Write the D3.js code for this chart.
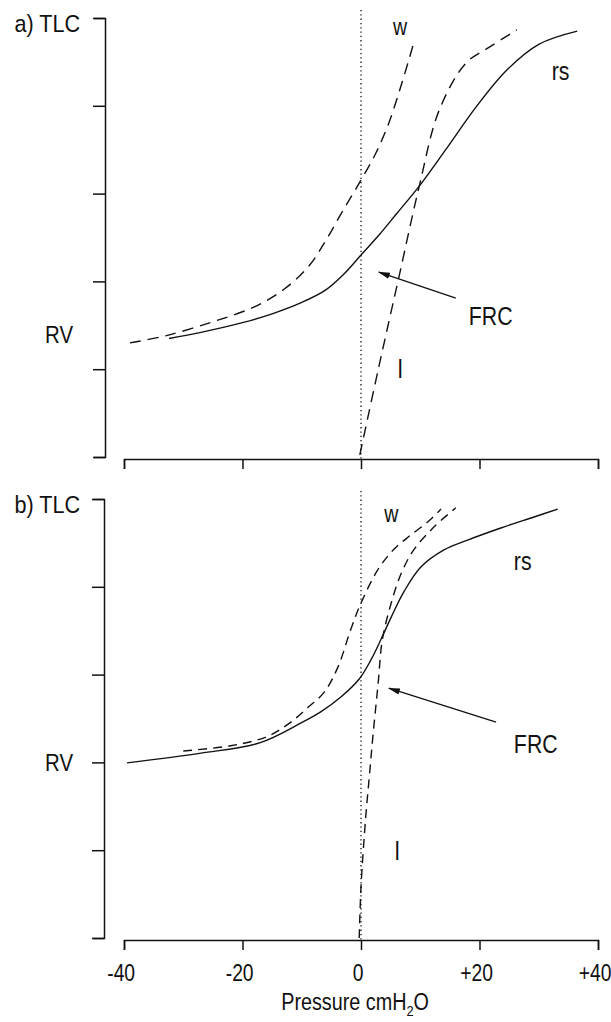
<!DOCTYPE html>
<html>
<head>
<meta charset="utf-8">
<script src="https://cdn.jsdelivr.net/npm/d3@7"></script>
<style>
  html, body { margin: 0; padding: 0; background: #fff; }
  svg { display: block; }
  text { font-family: "Liberation Sans", Arial, Helvetica, sans-serif; fill: #111; }
</style>
</head>
<body>
<svg id="chart" width="611" height="1022"></svg>
<script>
// Static pressure–volume curves: lung (l), chest wall (w) and
// total respiratory system (rs). Pressure in cmH2O, volume in % of TLC.

const pressureTicks = [-40, -20, 0, 20, 40];
const pressureLabels = ["-40", "-20", "0", "+20", "+40"];
const volumeTicks = [0, 20, 40, 60, 80, 100];

// Panel a) — [pressure, volume %]
const aRespSystem = [[-32.4, 27.0], [-27, 28.4], [-20, 30.6], [-15, 32.6], [-10, 35.2],
  [-6, 38.0], [-3, 41.5], [0, 46.0], [3, 50.5], [6, 55.4], [10, 62.0], [14.3, 70.0],
  [19.4, 79.7], [24.5, 88.0], [30.0, 94.0], [36.5, 97.0]];
const aChestWall = [[-39, 26.0], [-33, 27.6], [-25, 30.8], [-18, 34.2], [-13, 38.2],
  [-8.8, 43.5], [-5.9, 49.4], [-3.2, 55.8], [-0.2, 62.6], [2.5, 69.2], [4.7, 76.1],
  [6.9, 85.2], [8.9, 94.3]];
const aLung = [[-0.2, 0.5], [3.0, 20.5], [6.4, 41.0], [9.8, 61.5], [13.2, 79.0],
  [17.7, 89.7], [21.6, 93.3], [26.3, 97.3]];
const aRV = 28;

// Panel b) — [pressure, volume %]
const bRespSystem = [[-39.5, 39.9], [-27.0, 42.1], [-17, 44.5], [-10.1, 49.0], [-6.8, 51.5],
  [-3.4, 54.9], [-0.3, 59.0], [1.7, 63.4], [3.4, 68.1], [5.1, 73.1], [7.3, 79.0],
  [10.1, 84.5], [14.0, 88.4], [18.1, 90.7], [23.6, 93.4], [29.2, 95.9], [33.2, 97.7]];
const bChestWall = [[-30, 42.6], [-22, 43.8], [-16, 45.8], [-12, 49.0], [-8.9, 52.6],
  [-6.2, 56.0], [-3.9, 61.7], [-1.7, 70.4], [0, 76.3], [2.9, 84.0], [5.6, 88.6],
  [8.4, 91.8], [11.3, 94.8], [13.5, 97.7]];
const bLung = [[-0.3, 0], [0, 11.6], [0.8, 27.6], [1.4, 36.7], [2.0, 45.8], [2.9, 58.1],
  [3.6, 67.9], [5.1, 76.3], [6.8, 83.1], [8.9, 88.4], [12.3, 93.6], [16.0, 98.0]];
const bRV = 40;

const svg = d3.select("#chart");

// Arrowhead used by the FRC pointers
svg.append("defs").append("marker")
  .attr("id", "arrowhead")
  .attr("viewBox", "0 0 12 8")
  .attr("refX", 11).attr("refY", 4)
  .attr("markerWidth", 12).attr("markerHeight", 8)
  .attr("markerUnits", "userSpaceOnUse")
  .attr("orient", "auto")
  .append("path").attr("d", "M0,0.8L12,4L0,7.2Z").attr("fill", "#111");

const x = d3.scaleLinear().domain([-40, 40]).range([124, 598]);

const panels = [
  { tag: "a)", rs: aRespSystem, w: aChestWall, l: aLung, rv: aRV, dash: "11,7",
    y: d3.scaleLinear().domain([0, 100]).range([457, 18]), yAxisX: 105, xAxisY: 459,
    showTickLabels: false,
    notes: { w: [6.6, 96.1], rs: [32.2, 85.9], frc: [18.2, 30.1], l: [6.6, 18.0],
             arrowFrom: [16.0, 36.2], arrowTo: [3.0, 42.1] } },
  { tag: "b)", rs: bRespSystem, w: bChestWall, l: bLung, rv: bRV, dash: "9,6",
    y: d3.scaleLinear().domain([0, 100]).range([938, 499]), yAxisX: 104, xAxisY: 940,
    showTickLabels: true,
    notes: { w: [5.1, 94.8], rs: [25.8, 83.8], frc: [25.8, 42.1], l: [6.1, 17.8],
             arrowFrom: [22.8, 49.2], arrowTo: [4.7, 56.9] } }
];

function condensedText(g, str, px, py, size, anchor, sx) {
  return g.append("text")
    .attr("transform", `translate(${px},${py}) scale(${sx || 0.85},1)`)
    .attr("text-anchor", anchor || "start")
    .style("font-size", size + "px")
    .text(str);
}

panels.forEach(p => {
  const g = svg.append("g");
  const y = p.y;

  // Volume axis (ticks point outward, no numeric labels)
  const yAxis = g.append("g")
    .attr("transform", `translate(${p.yAxisX},0)`)
    .call(d3.axisLeft(y).tickValues(volumeTicks).tickSize(12).tickSizeOuter(11).tickFormat(""));
  yAxis.selectAll("path, line").attr("stroke", "#111").attr("stroke-width", 1.5);

  // Pressure axis, offset from the volume axis
  const xAxis = g.append("g")
    .attr("transform", `translate(0,${p.xAxisY})`)
    .call(d3.axisBottom(x).tickValues(pressureTicks).tickSize(10).tickSizeOuter(10)
      .tickPadding(15)
      .tickFormat((d, i) => p.showTickLabels ? pressureLabels[i] : ""));
  xAxis.selectAll("path, line").attr("stroke", "#111").attr("stroke-width", 1.5);
  xAxis.selectAll("text")
    .attr("fill", "#111")
    .attr("dx", -4)
    .style("font-size", "23px")
    .style("font-family", '"Liberation Sans", Arial, sans-serif')
    .attr("transform", "scale(0.84,1)");

  // Zero-pressure reference
  g.append("line")
    .attr("x1", x(0)).attr("x2", x(0))
    .attr("y1", y(100) - 8).attr("y2", p.xAxisY)
    .attr("stroke", "#111").attr("stroke-width", 1.3)
    .attr("stroke-dasharray", "1.3,3");

  const line = d3.line()
    .x(d => x(d[0])).y(d => y(d[1]))
    .curve(d3.curveCatmullRom.alpha(0.5));

  g.append("path").datum(p.rs).attr("d", line)
    .attr("fill", "none").attr("stroke", "#111").attr("stroke-width", 1.4);
  g.append("path").datum(p.w).attr("d", line)
    .attr("fill", "none").attr("stroke", "#111").attr("stroke-width", 1.4)
    .attr("stroke-dasharray", p.dash);
  g.append("path").datum(p.l).attr("d", line)
    .attr("fill", "none").attr("stroke", "#111").attr("stroke-width", 1.4)
    .attr("stroke-dasharray", p.dash);

  // Axis captions
  condensedText(g, p.tag + " TLC", 80, y(100) + 14, 24, "end", 0.9);
  condensedText(g, "RV", 73, y(p.rv) + 9, 24, "end", 0.85);

  // Curve labels
  const n = p.notes;
  condensedText(g, "w", x(n.w[0]), y(n.w[1]), 23, "middle", 0.85);
  condensedText(g, "rs", x(n.rs[0]), y(n.rs[1]), 25, "start", 0.85);
  condensedText(g, "FRC", x(n.frc[0]), y(n.frc[1]), 26, "start", 0.82);
  condensedText(g, "l", x(n.l[0]), y(n.l[1]), 26, "middle", 0.85);

  g.append("line")
    .attr("x1", x(n.arrowFrom[0])).attr("y1", y(n.arrowFrom[1]))
    .attr("x2", x(n.arrowTo[0])).attr("y2", y(n.arrowTo[1]))
    .attr("stroke", "#111").attr("stroke-width", 1.3)
    .attr("marker-end", "url(#arrowhead)");
});

// Shared pressure caption
const caption = svg.append("text")
  .attr("transform", `translate(${x(-1)},1010) scale(0.86,1)`)
  .attr("text-anchor", "middle")
  .style("font-size", "23px");
caption.append("tspan").text("Pressure  cmH");
caption.append("tspan").attr("dy", 6).style("font-size", "15px").text("2");
caption.append("tspan").attr("dy", -6).text("O");
</script>
</body>
</html>
